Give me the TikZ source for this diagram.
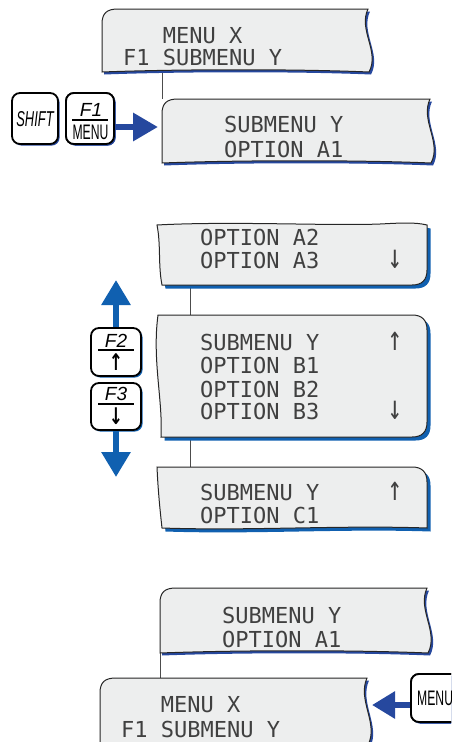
\documentclass[tikz,border=0pt]{standalone}
\usepackage{fontspec}
\setmainfont{Liberation Sans}
\newfontfamily\lcd{DejaVu Sans Mono}
\newfontfamily\djv{DejaVu Sans}
\usetikzlibrary{shadows,arrows.meta}
\definecolor{scrfill}{RGB}{237,238,238}
\definecolor{darkblue}{RGB}{38,72,158}
\definecolor{midblue}{RGB}{16,96,176}
\newcommand\scrone[4]{(#1,#4) -- (#1,{#2+15}) .. controls (#1,{#2+4}) and ({#1+5},#2) .. ({#1+16},#2) -- (#3,#2) .. controls ({#3-10},{#2+0.33*(#4-#2)}) and ({#3+12},{#2+0.68*(#4-#2)}) .. ({#3+1},#4) .. controls ({#3-70},{#4-3}) and ({#1+80},{#4-3}) .. (#1,#4) -- cycle}
\newcommand\scrA{(157,225) .. controls (230,221) and (330,226) .. (380,224) .. controls (400,223) and (415,222) .. (427,225) -- (427,270) .. controls (427,280) and (422,285) .. (412,285) -- (162,285) .. controls (158,265) and (161,245) .. (157,225) -- cycle}
\newcommand\scrB{(158,315) -- (412,315) .. controls (422,315) and (427,320) .. (427,330) -- (427,422) .. controls (427,432) and (422,437) .. (412,437) -- (161,437) .. controls (163,400) and (152,360) .. (158,315) -- cycle}
\newcommand\scrC{(157,467) -- (412,467) .. controls (422,467) and (427,472) .. (427,482) -- (427,528) .. controls (340,525) and (250,531) .. (162,528) .. controls (160,510) and (158,490) .. (157,467) -- cycle}
\begin{document}
\begin{tikzpicture}[x=1pt,y=-1pt,
  lcdtxt/.style={font=\lcd\fontsize{22}{22}\selectfont, text=black!75, anchor=base west, inner sep=0pt},
  lcdarrow/.style={font=\lcd\fontsize{22}{22}\selectfont, text=black!75, anchor=base, inner sep=0pt},
  scr/.style={fill=scrfill, draw=black!85, line width=1pt},
  conn/.style={draw=black!70, line width=0.9pt},
  keybox/.style={draw=black, line width=1.8pt, fill=white, rounded corners=8pt, inner sep=0pt,
     minimum width=46pt, minimum height=51pt,
     drop shadow={opacity=1, fill=#1, shadow xshift=1.6pt, shadow yshift=-1.6pt}},
  keybox/.default=darkblue,
  keytxt/.style={inner sep=0pt, anchor=base, font=\fontsize{18}{18}\selectfont},
  bigarrow/.style={line width=6.5pt, draw=#1, -{Triangle[length=25pt,width=27pt]}}
]
\useasboundingbox (0,0) rectangle (451,742);
\clip (0,0) rectangle (451,742);

% ---------- top section ----------
\coordinate (s1b) at (162,72);
\coordinate (s2t) at (162,99);
\draw[conn] (s1b) -- (s2t);
\fill[darkblue, shift={(2,2.5)}] \scrone{102}{9}{368}{72};
\filldraw[scr] \scrone{102}{9}{368}{72};
\fill[darkblue, shift={(2,2.5)}] \scrone{162}{99}{430}{163};
\filldraw[scr] \scrone{162}{99}{430}{163};
\node[lcdtxt] (t1a) at (123,43) {\ \ \ MENU X};
\node[lcdtxt] (t1b) at (123,65) {F1 SUBMENU Y};
\node[lcdtxt] (t2a) at (224,132) {SUBMENU Y};
\node[lcdtxt] (t2b) at (224,157) {OPTION A1};

\coordinate (a1tip) at (158,127);
\node[keybox] (shiftkey) at (35,118.5) {};
\node[keybox, minimum width=48pt] (f1key) at (90,118.5) {};
\draw[bigarrow=darkblue] (f1key.east |- a1tip) -- (a1tip);
\node[keybox, minimum width=48pt] at (90,118.5) {};
\node[keytxt, font=\fontsize{21.5}{21}\selectfont\itshape] (shifttxt) at (35,126.5) {\scalebox{0.6}[1]{SHIFT}};
\node[keytxt, font=\fontsize{19}{18}\selectfont\itshape] (f1txt) at (91,116) {F1};
\draw[line width=1.5pt] (72,120) -- (108,120);
\node[keytxt, font=\fontsize{21}{21}\selectfont] (menutxt1) at (90.5,139.5) {\scalebox{0.58}[1]{MENU}};

% ---------- middle section ----------
\coordinate (sAb) at (190,285);
\coordinate (sBt) at (190,315);
\coordinate (sBb) at (190,437);
\coordinate (sCt) at (190,467);
\draw[conn] (sAb) -- (sBt);
\draw[conn] (sBb) -- (sCt);
\fill[midblue, shift={(3.5,3.5)}] \scrA;
\filldraw[scr] \scrA;
\fill[midblue, shift={(3.5,3.5)}] \scrB;
\filldraw[scr] \scrB;
\fill[midblue, shift={(3.5,3.5)}] \scrC;
\filldraw[scr] \scrC;
\node[lcdtxt] (tA1) at (200,245) {OPTION A2};
\node[lcdtxt] (tA2) at (200,268) {OPTION A3};
\node[lcdarrow] (tA2d) at (395,268) {\scalebox{1.1}[1.55]{↓}};
\node[lcdtxt] (tB1) at (200,350) {SUBMENU Y};
\node[lcdarrow] (tB1u) at (395,350) {\scalebox{1.1}[1.55]{↑}};
\node[lcdtxt] (tB2) at (200,373) {OPTION B1};
\node[lcdtxt] (tB3) at (200,397) {OPTION B2};
\node[lcdtxt] (tB4) at (200,419) {OPTION B3};
\node[lcdarrow] (tB4d) at (395,419) {\scalebox{1.1}[1.55]{↓}};
\node[lcdtxt] (tC1) at (200,500) {SUBMENU Y};
\node[lcdarrow] (tC1u) at (395,500) {\scalebox{1.1}[1.55]{↑}};
\node[lcdtxt] (tC2) at (200,523) {OPTION C1};

\coordinate (uptip) at (116,280);
\coordinate (dntip) at (116,477);
\node[keybox=midblue, minimum width=50pt, minimum height=48pt] (f2key) at (116,352) {};
\node[keybox=midblue, minimum width=50pt, minimum height=47pt] (f3key) at (116,406.5) {};
\draw[bigarrow=midblue, line width=6pt, -{Triangle[length=25pt,width=28pt]}] (f2key.north -| uptip) -- (uptip);
\draw[bigarrow=midblue, line width=6pt, -{Triangle[length=25pt,width=28pt]}] (f3key.south -| dntip) -- (dntip);
\node[keytxt, font=\fontsize{19}{18}\selectfont\itshape] (f2txt) at (116,347) {F2};
\draw[line width=1.5pt] (98,350) -- (134,350);
\node[inner sep=0pt, font=\djv\bfseries\fontsize{17}{17}\selectfont] (f2arr) at (116,362.5) {\scalebox{1}[1.35]{↑}};
\node[keytxt, font=\fontsize{19}{18}\selectfont\itshape] (f3txt) at (116,400) {F3};
\draw[line width=1.5pt] (98,404) -- (134,404);
\node[inner sep=0pt, font=\djv\bfseries\fontsize{17}{17}\selectfont] (f3arr) at (116,416) {\scalebox{1}[1.35]{↓}};

% ---------- bottom section ----------
\coordinate (sDb) at (160,653);
\coordinate (sEt) at (160,678);
\draw[conn] (sDb) -- (sEt);
\fill[darkblue, shift={(2,2.5)}] \scrone{160}{588}{427}{653};
\filldraw[scr] \scrone{160}{588}{427}{653};
\fill[darkblue, shift={(2,2.5)}] \scrone{100}{678}{367}{745};
\filldraw[scr] \scrone{100}{678}{367}{745};
\node[lcdtxt] (tD1) at (222,623) {SUBMENU Y};
\node[lcdtxt] (tD2) at (222,647) {OPTION A1};
\node[lcdtxt] (tE1) at (121,712) {\ \ \ MENU X};
\node[lcdtxt] (tE2) at (121,737) {F1 SUBMENU Y};

\coordinate (bltip) at (372,705);
\node[keybox, minimum width=60pt, minimum height=48pt] (menukey) at (441,698) {};
\draw[bigarrow=darkblue, line width=6pt, -{Triangle[length=23pt,width=26pt]}] (menukey.west |- bltip) -- (bltip);
\node[keybox, minimum width=60pt, minimum height=48pt] at (441,698) {};
\node[inner sep=0pt, anchor=base west, font=\fontsize{21}{21}\selectfont] (menutxt2) at (417,705) {\scalebox{0.58}[1]{MENU}};
\end{tikzpicture}
\end{document}
